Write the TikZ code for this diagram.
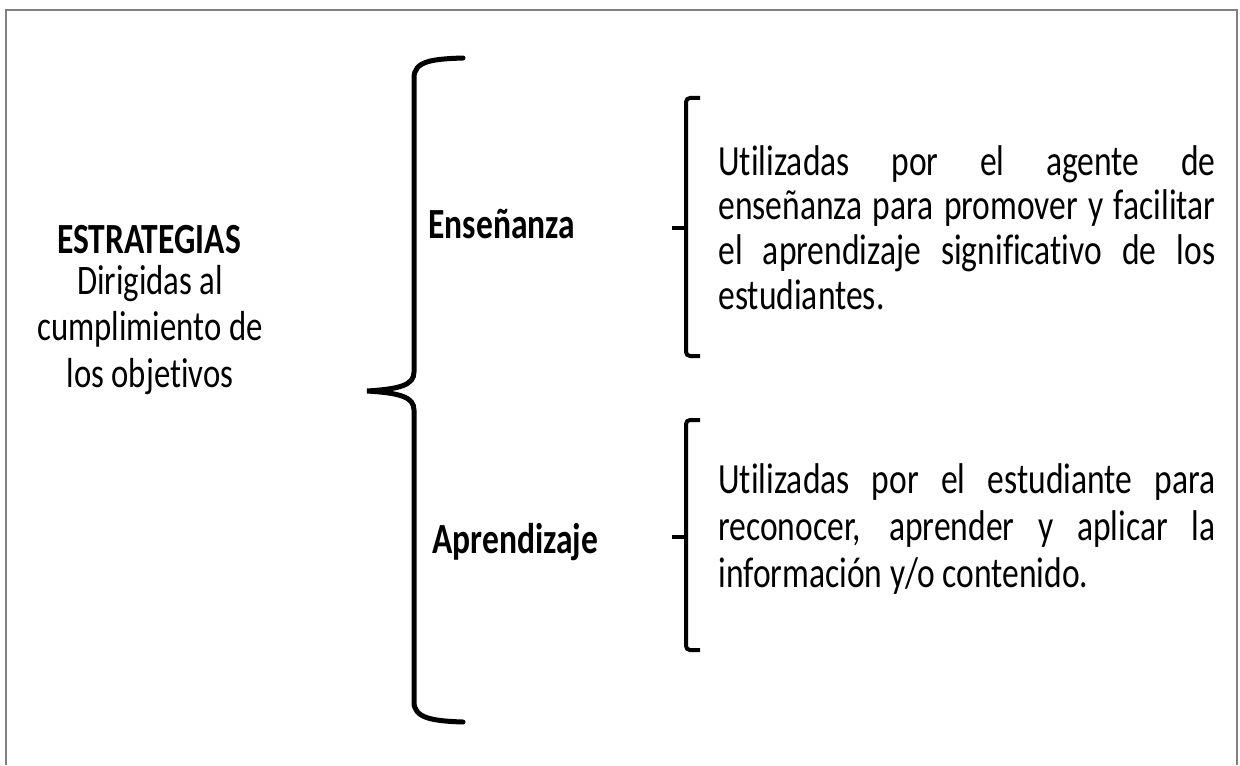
\documentclass[tikz,border=0pt]{standalone}
\usepackage{fontspec}
\setmainfont[FakeStretch=0.78, Ligatures=NoCommon]{Carlito}
\begin{document}
\begin{tikzpicture}[x=0.5pt, y=-0.5pt,
	frame/.style={draw=black!50, line width=1.1pt},
	bigbrace/.style={draw, line width=2.5pt, line cap=round},
	smallbrace/.style={draw, line width=2pt, rounded corners=2pt},
	label/.style={inner sep=0pt, anchor=base west, font=\fontsize{21.5}{22}\selectfont\bfseries},
	body/.style={inner sep=0pt, anchor=base west}]

	\useasboundingbox (0,0) rectangle (1240,765);

	% frame
	\draw[frame] (6,765) -- (6,10) -- (1237,10) -- (1237,765);

	% left text
	\node[inner sep=0pt, anchor=base, font=\fontsize{21.5}{22}\selectfont\bfseries] (title) at (149,253) {ESTRATEGIAS};
	\node[inner sep=0pt, anchor=base] (goal) at (150,294)
		{\parbox[t]{160pt}{\centering\fontsize{21}{23.3}\selectfont Dirigidas al\\ cumplimiento de\\ los objetivos}};

	% big brace
	\draw[bigbrace] (463,58) .. controls (432,59) and (414,61) .. (414,78)
		-- (414,372) .. controls (414,385) and (400,389) .. (367,391)
		.. controls (400,393) and (414,397) .. (414,410)
		-- (414,702) .. controls (414,718) and (432,721) .. (463,722);

	% labels
	\node[label] (teach) at (428,238) {Enseñanza};
	\node[label] (learn) at (432,553) {Aprendizaje};

	% small braces
	\draw[smallbrace] (700,98) -- (686,98) -- (686,356) -- (700,356);
	\draw[bigbrace, line width=2pt, line cap=butt] (686,228) -- (672,228);
	\draw[smallbrace] (700,420) -- (686,420) -- (686,650) -- (700,650);
	\draw[bigbrace, line width=2pt, line cap=butt] (686,537) -- (672,537);

	% descriptions
	\node[body] (teachtext) at (718,175)
		{\parbox[t]{248.5pt}{\fontsize{21.5}{22.4}\selectfont Utilizadas por el agente de\linebreak
		enseñanza para promover y facilitar\linebreak
		el aprendizaje significativo de los\linebreak
		estudiantes.}};
	\node[body] (learntext) at (718,493)
		{\parbox[t]{248.5pt}{\fontsize{21.5}{23.5}\selectfont Utilizadas por el estudiante para\linebreak
		reconocer, aprender y aplicar la\linebreak
		información y/o contenido.}};

\end{tikzpicture}
\end{document}
